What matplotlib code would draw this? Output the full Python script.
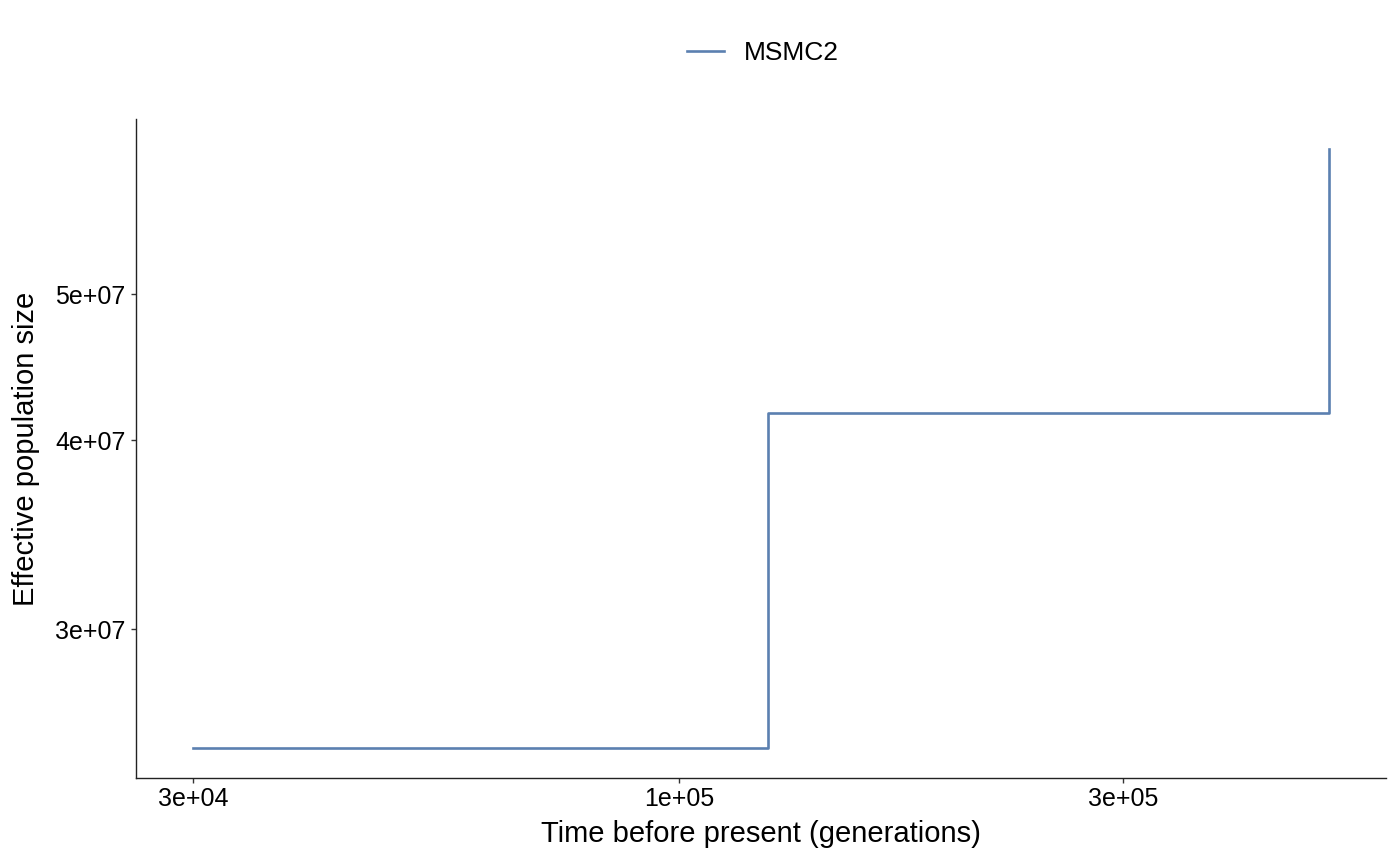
import matplotlib
matplotlib.use("Agg")
import matplotlib.pyplot as plt
from matplotlib.ticker import FixedLocator, NullLocator
import numpy as np

plt.rcParams['font.family'] = ['Liberation Sans', 'DejaVu Sans']

time_gen = [3.0e4, 1.246e5, 5.0e5]
ne = [2.502e7, 4.169e7, 6.24e7]
xticks = [3e4, 1e5, 3e5]
xticklabels = ["3e+04", "1e+05", "3e+05"]
yticks = [3e7, 4e7, 5e7]
yticklabels = ["3e+07", "4e+07", "5e+07"]
series_name = "MSMC2"

W, H = 1400, 865
fig = plt.figure(figsize=(W/100, H/100), dpi=100)
ax = fig.add_axes([136/W, 1-778/H, (1386-136)/W, (778-119)/H])

ax.plot(time_gen, ne, drawstyle='steps-post', color='#5B80B0', lw=1.9, label=series_name)
ax.set_xscale('log')
ax.set_yscale('log')

lx = np.log10(time_gen); rx = lx.max()-lx.min()
ax.set_xlim(10**(lx.min()-0.05*rx), 10**(lx.max()+0.05*rx))
ly = np.log10(ne); ry = ly.max()-ly.min()
ax.set_ylim(10**(ly.min()-0.05*ry), 10**(ly.max()+0.05*ry))

ax.xaxis.set_major_locator(FixedLocator(xticks))
ax.xaxis.set_minor_locator(NullLocator())
ax.set_xticklabels(xticklabels)
ax.yaxis.set_major_locator(FixedLocator(yticks))
ax.yaxis.set_minor_locator(NullLocator())
ax.set_yticklabels(yticklabels)

for s in ['top', 'right']:
    ax.spines[s].set_visible(False)
for s in ['left', 'bottom']:
    ax.spines[s].set_linewidth(1.0)
    ax.spines[s].set_color('#222222')
ax.tick_params(axis='both', labelsize=18, length=3.6, width=1.0, color='#333333', labelcolor='black', pad=3)
ax.tick_params(axis='y', pad=4)

ax.set_xlabel("Time before present (generations)", fontsize=21, labelpad=6)
ax.set_ylabel("Effective population size", fontsize=21, labelpad=11)

fig.legend(loc='center', bbox_to_anchor=(763/W, 1-53/H), frameon=False, fontsize=19,
           handlelength=1.4, handletextpad=0.75)

fig.savefig("out.png", dpi=100, facecolor='white')
